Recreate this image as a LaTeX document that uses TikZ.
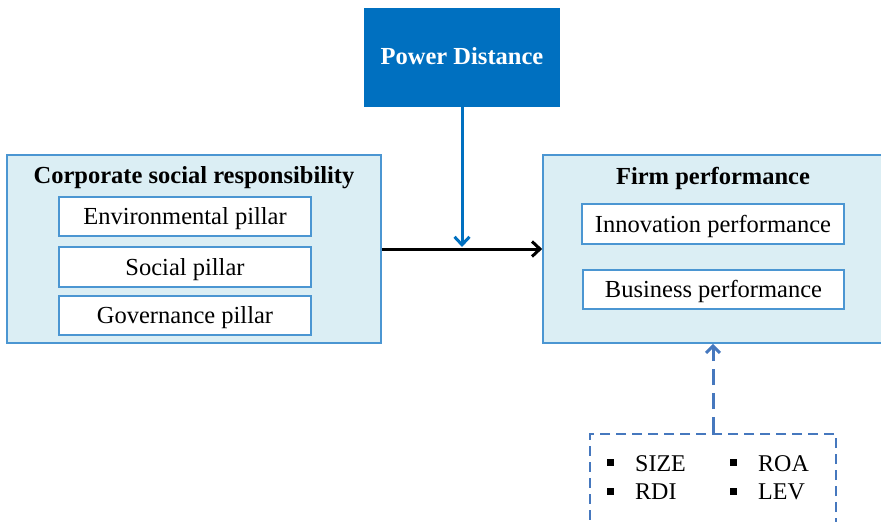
\documentclass[tikz,border=0pt]{standalone}
\usepackage{fontspec}
\setmainfont{Liberation Serif}
\usetikzlibrary{arrows.meta}
\definecolor{pdblue}{RGB}{0,112,192}
\definecolor{panel}{RGB}{219,238,244}
\definecolor{edge}{RGB}{75,150,210}
\definecolor{dashblue}{RGB}{70,120,190}
\tikzset{
  panelbox/.style={draw=edge, line width=1.6pt, fill=panel},
  itembox/.style={draw=edge, line width=1.6pt, fill=white, font=\fontsize{24.5}{28}\selectfont,
    text height=20pt, text depth=4pt},
  titletext/.style={font=\bfseries\fontsize{24.5}{28}\selectfont},
  listtext/.style={font=\fontsize{24}{28}\selectfont, anchor=west, inner sep=0pt},
  bulletmark/.style={fill=black, minimum size=7pt, inner sep=0pt},
  tip/.style={-{Straight Barb[length=8pt,width=15pt,line width=3pt]}},
}
\begin{document}
\begin{tikzpicture}[x=1pt, y=-1pt]
\useasboundingbox (0,0) rectangle (881,522);
\clip (0,0) rectangle (881,522);

% moderator
\node[fill=pdblue, text=white, titletext, minimum width=196pt, minimum height=99pt, inner sep=0pt,
  text height=19pt, text depth=5pt]
  (pd) at (462,57.5) {Power Distance};

% CSR panel
\node[panelbox, minimum width=374pt, minimum height=188pt, inner sep=0pt] (csr) at (194,249) {};
\node[titletext] (csrt) at (194,178) {Corporate social responsibility};
\node[itembox, minimum width=252pt, minimum height=39pt, inner sep=0pt] (env) at (185,216.5) {Environmental pillar};
\node[itembox, minimum width=252pt, minimum height=40pt, inner sep=0pt] (soc) at (185,267) {Social pillar};
\node[itembox, minimum width=252pt, minimum height=39pt, inner sep=0pt] (gov) at (185,315.5) {Governance pillar};

% firm performance panel
\node[panelbox, minimum width=340pt, minimum height=188pt, inner sep=0pt] (fp) at (713,249) {};
\node[titletext] (fpt) at (713,178) {Firm performance};
\node[itembox, minimum width=262pt, minimum height=40pt, inner sep=0pt] (inn) at (713,224) {Innovation performance};
\node[itembox, minimum width=261pt, minimum height=39pt, inner sep=0pt] (bus) at (713.5,289.5) {Business performance};

% controls (box runs past the lower edge)
\node[draw=dashblue, line width=2.2pt, dash pattern=on 10pt off 6pt, minimum width=246pt, minimum height=120pt, inner sep=0pt, anchor=north]
  (ctrl) at (713,433) {};
\node[bulletmark] (b1) at (610,462) {};
\node[bulletmark] (b2) at (610,491) {};
\node[bulletmark] (b3) at (733,462) {};
\node[bulletmark] (b4) at (733,491) {};
\node[listtext] (t1) at (635,464) {SIZE};
\node[listtext] (t2) at (635,492) {RDI};
\node[listtext] (t3) at (758,464) {ROA};
\node[listtext] (t4) at (758,492) {LEV};

% connectors
\draw[line width=3pt, tip] (csr.east |- 0,249) -- (fp.west |- 0,249);
\coordinate (meet) at (462,247);
\draw[pdblue, line width=3pt, tip] (pd.south) -- (meet);
\draw[dashblue, line width=3pt, dash pattern=on 16pt off 8pt, -{Straight Barb[length=7pt,width=14pt,line width=3pt]}] (ctrl.north) -- (fp.south);
\end{tikzpicture}
\end{document}
